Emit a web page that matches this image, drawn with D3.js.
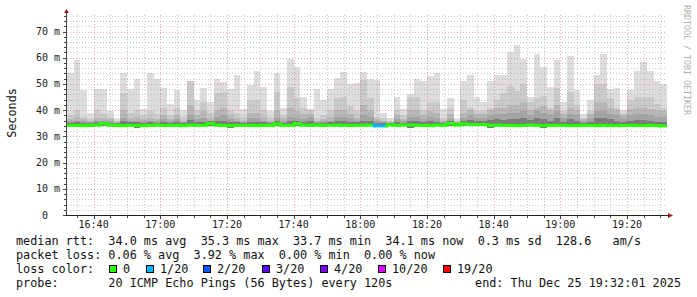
<!DOCTYPE html>
<html>
<head>
<meta charset="utf-8">
<script src="https://cdn.jsdelivr.net/npm/d3@7"></script>
<style>
  body { margin: 0; background: #fff; }
  text { font-family: "DejaVu Sans Mono", monospace; }
</style>
</head>
<body>
<div id="chart"></div>
<script>
// Smoke: sorted ping rtts per 120s step (ms), outermost band first
const rttMax = [54, 59, 47.5, 39, 48, 48, 39.5, 37, 54, 48, 52, 40.5, 54, 52, 48.5, 42.5, 47.5, 40, 51.3, 44, 48.5, 43, 52, 50.6, 48, 53.5, 40.5, 49.5, 55, 49,
                39.5, 54, 41, 59.5, 56.5, 45, 40.5, 48, 44, 48, 52.3, 54.5, 50, 50.5, 54.5, 52, 51.5, 39, 37, 45, 40.5, 46, 52, 51, 53, 54, 40.5, 44.5, 37, 51,
                53.3, 45, 43, 51, 53.5, 53.3, 62, 65, 59.5, 45, 61.5, 56.5, 49, 59, 43, 60.5, 47.5, 38.6, 44, 53.5, 61.5, 48, 48.5, 40, 47.5, 55, 58.5, 55, 51, 50];
const rttP19 = [38, 40, 37.5, 37, 40, 39, 37.5, 36, 46.4, 39, 40, 38, 39.5, 38.5, 41, 38, 41, 37.5, 51, 40, 43, 39, 46.5, 47, 40, 39, 37.5, 43.8, 43.8, 40,
                37.5, 47, 38, 49, 44.5, 41, 40, 37, 38, 40, 44.7, 45, 41.5, 39.5, 51.6, 44.7, 37.5, 37, 36, 40, 38, 45, 45, 40, 43, 43, 37, 41, 36, 44,
                41, 39.8, 39.8, 41, 44, 46.7, 49.1, 47.2, 49.8, 43, 44.7, 45.3, 41, 48.5, 39.8, 47, 42, 37, 39.8, 50, 50, 44.7, 41, 39, 44, 45, 45, 45, 42.5, 41];
const rttP18 = [36.5, 37.5, 36.5, 36, 37, 37, 36.5, 35.5, 40, 37, 37.5, 36.5, 37, 36.5, 38, 36.5, 38, 36, 42, 38, 39.5, 37, 40, 41, 38, 37, 36, 39, 39, 37.5,
                36, 40, 37, 41, 39.5, 38.5, 38.5, 36, 36.5, 37.5, 40, 40, 38.5, 37, 42, 40, 36.5, 36, 35.5, 38, 36.5, 40, 40, 38, 39.5, 39, 36, 38.5, 35.5, 39,
                40, 38.5, 38.5, 40, 41, 41, 42, 42, 43, 40, 41, 41.5, 40, 42, 38.5, 41, 40, 36.5, 38.5, 43, 43, 41, 40, 38, 40.5, 41, 41, 40.5, 40, 39.5];
const rttP17 = [35.8, 36, 35.8, 35.5, 36, 35.8, 35.8, 35.2, 37, 36, 36, 35.8, 36, 35.8, 36.5, 35.8, 36.5, 35.5, 38, 36.5, 37, 36, 37.5, 38, 36.5, 36, 35.5, 37, 37, 36,
                35.5, 37, 36, 37.5, 37, 36.5, 37.5, 35.5, 35.8, 36, 37.5, 37.5, 37, 36, 38, 37.5, 35.8, 35.5, 35.2, 36.5, 35.8, 37.5, 37.5, 36.5, 37.5, 37, 35.5, 36.5, 35.2, 37,
                38, 37, 37, 38, 38.5, 38.5, 39, 39, 39.5, 38, 39.5, 39, 38, 39.5, 37, 38.5, 38, 35.8, 37, 39.5, 39.5, 38.5, 38, 37, 38, 38.5, 38.5, 38, 37.5, 37.5];
const rttP16 = [35.2, 35.4, 35.1, 35.0, 35.3, 35.6, 35.2, 35.0, 35.8, 35.3, 35.4, 35.1, 35.3, 35.2, 35.6, 35.2, 35.5, 35.0, 36.2, 35.5, 35.6, 35.7, 35.8, 36.0, 35.4, 35.3, 35.0, 35.6, 35.6, 35.3,
                35.0, 35.8, 35.2, 36.0, 35.8, 35.5, 36.0, 35.0, 35.2, 35.3, 35.8, 35.9, 35.6, 35.3, 36.0, 35.8, 35.1, 35.0, 35.0, 35.5, 35.2, 36.0, 35.8, 35.5, 35.8, 35.6, 35.0, 35.8, 35.2, 35.8,
                36.2, 35.8, 35.8, 36.2, 36.5, 36.3, 36.8, 36.8, 37.0, 36.2, 37.0, 36.8, 36.0, 37.0, 35.6, 36.5, 36.0, 35.1, 35.6, 37.0, 37.0, 36.5, 36.0, 35.5, 36.0, 36.3, 36.3, 36.0, 35.6, 35.5];
const rttMin = [33.8, 33.8, 33.8, 33.7, 33.8, 33.9, 33.8, 33.6, 33.8, 33.8, 33.3, 33.8, 33.8, 33.8, 33.7, 33.8, 33.8, 33.6, 33.8, 33.8, 33.8, 33.9, 33.8, 33.8, 33.3, 33.8, 33.8, 33.7, 33.8, 33.8,
                33.8, 33.9, 33.8, 33.8, 33.9, 33.8, 33.8, 33.8, 33.7, 33.8, 33.8, 33.8, 33.6, 33.8, 33.8, 33.8, 33.5, 33.5, 33.8, 33.8, 33.8, 33.3, 33.8, 33.8, 33.7, 33.8, 33.8, 33.9, 33.8, 33.9,
                33.9, 33.9, 33.9, 33.3, 33.8, 33.8, 33.8, 33.7, 33.8, 33.8, 33.8, 33.3, 33.8, 33.8, 33.8, 33.7, 33.8, 33.8, 33.8, 33.7, 33.8, 33.7, 33.7, 33.8, 33.8, 33.7, 33.7, 33.8, 33.7, 33.6];
const rttMedian = [34.2, 34.2, 34.1, 34.2, 34.3, 34.9, 34.3, 34.2, 34.1, 34.2, 34.2, 34.1, 34.2, 34.3, 34.2, 34.2, 34.2, 34.1, 34.3, 34.2, 34.2, 34.9, 34.3, 34.2, 34.1, 34.2, 34.2, 34.2, 34.1, 34.2,
                   34.2, 34.8, 34.2, 34.2, 34.9, 34.3, 34.2, 34.3, 34.2, 34.2, 34.3, 34.2, 34.2, 34.2, 34.2, 34.3, 34.0, 34.0, 34.4, 34.2, 34.3, 34.3, 34.2, 34.2, 34.1, 34.3, 34.2, 34.9, 34.3, 34.8,
                   34.5, 34.5, 34.5, 34.2, 34.3, 34.2, 34.2, 34.1, 34.2, 34.3, 34.2, 34.1, 34.2, 34.2, 34.2, 34.1, 34.1, 34.2, 34.2, 34.1, 34.2, 34.1, 34.1, 34.2, 34.2, 34.1, 34.1, 34.2, 34.1, 34.0];
// lost pings out of 20 per step
const lossCount = [0, 0, 0, 0, 0, 0, 0, 0, 0, 0, 0, 0, 0, 0, 0, 0, 0, 0, 0, 0, 0, 0, 0, 0, 0, 0, 0, 0, 0, 0,
                   0, 0, 0, 0, 0, 0, 0, 0, 0, 0, 0, 0, 0, 0, 0, 0, 1, 1, 0, 0, 0, 0, 0, 0, 0, 0, 0, 0, 0, 0,
                   0, 0, 0, 0, 0, 0, 0, 0, 0, 0, 0, 0, 0, 0, 0, 0, 0, 0, 0, 0, 0, 0, 0, 0, 0, 0, 0, 0, 0, 0];

// Loss colour classes
const lossThresholds = [0, 1, 2, 3, 4, 10, 19];
const lossLabels = ["0", "1/20", "2/20", "3/20", "4/20", "10/20", "19/20"];
const lossColors = ["#26ff00", "#00b8ff", "#0059ff", "#5e00ff", "#7e00ff", "#dd00ff", "#ff0000"];

// Y ticks (ms)
const yMajorTicks = [0, 10, 20, 30, 40, 50, 60, 70];

// Legend texts
const legendLines = [
    "median rtt:  34.0 ms avg  35.3 ms max  33.7 ms min  34.1 ms now  0.3 ms sd  128.6   am/s",
    "packet loss: 0.06 % avg  3.92 % max  0.00 % min  0.00 % now",
    "loss color:",
    "probe:       20 ICMP Echo Pings (56 Bytes) every 120s"
];
const endLabel = "end: Thu Dec 25 19:32:01 2025";

// Dimensions
let dimensions = {
    width: 697,
    height: 297,
    margin: {top: 15, left: 67},
    boundedWidth: 600,
    boundedHeight: 200,
};

const startTime = new Date(2025, 11, 25, 16, 32, 1);
const endTime = new Date(2025, 11, 25, 19, 32, 1);
const stepMs = 120 * 1000;
const times = rttMax.map((_, i) => new Date(+startTime + i * stepMs));

// Scales
const xScale = d3.scaleTime()
    .domain([startTime, endTime])
    .range([0, dimensions.boundedWidth]);

const yScale = d3.scaleLinear()
    .domain([0, 76.3])
    .range([dimensions.boundedHeight, 0]);

const lossColor = n => {
    let k = 0;
    lossThresholds.forEach((t, i) => { if (n >= t) k = i; });
    return lossColors[k];
};

// pixel-centred positions for 1px lines
const crisp = v => Math.round(v) + 0.5;
const colX0 = i => Math.round(xScale(times[i]));
const colX1 = i => Math.round(xScale(new Date(+times[i] + stepMs)));

const svg = d3.select("#chart")
    .append("svg")
        .attr("width", dimensions.width)
        .attr("height", dimensions.height)
        .style("display", "block");

const bounds = svg.append("g")
    .attr("transform", `translate(${dimensions.margin.left}, ${dimensions.margin.top})`);

// Smoke bands
const bands = [
    {values: rttMax, color: "#dddddd"},
    {values: rttP19, color: "#cacaca"},
    {values: rttP18, color: "#b7b7b7"},
    {values: rttP17, color: "#a4a4a4"},
    {values: rttP16, color: "#7a7a7a"},
];

bounds.append("g")
    .selectAll("g")
    .data(bands)
    .join("g")
        .attr("fill", d => d.color)
    .selectAll("rect")
    .data(b => b.values.map((v, i) => ({v, i})))
    .join("rect")
        .attr("x", d => colX0(d.i))
        .attr("width", d => colX1(d.i) - colX0(d.i))
        .attr("y", d => Math.round(yScale(d.v)))
        .attr("height", d => Math.round(yScale(rttMin[d.i])) - Math.round(yScale(d.v)));

// Grid (drawn over the smoke, like rrdtool)
const grid = bounds.append("g");
const minorX = d3.timeMinute.every(5).range(startTime, endTime);
const majorX = d3.timeMinute.every(20).range(startTime, endTime);
const minorColor = "rgba(150,150,150,0.5)";
const majorColor = "rgba(215,90,90,0.5)";

grid.selectAll("line.xminor")
    .data(minorX.filter(t => t.getMinutes() % 20 !== 0))
    .join("line")
        .attr("x1", d => crisp(xScale(d)))
        .attr("x2", d => crisp(xScale(d)))
        .attr("y1", 0)
        .attr("y2", dimensions.boundedHeight)
        .attr("stroke", minorColor)
        .attr("stroke-dasharray", "1,2");

grid.selectAll("line.yminor")
    .data(d3.range(2, 77, 2).filter(v => v % 10 !== 0))
    .join("line")
        .attr("x1", 0)
        .attr("x2", dimensions.boundedWidth)
        .attr("y1", d => crisp(yScale(d)))
        .attr("y2", d => crisp(yScale(d)))
        .attr("stroke", minorColor)
        .attr("stroke-dasharray", "1,2");

grid.selectAll("line.xmajor")
    .data(majorX)
    .join("line")
        .attr("x1", d => crisp(xScale(d)))
        .attr("x2", d => crisp(xScale(d)))
        .attr("y1", 0)
        .attr("y2", dimensions.boundedHeight)
        .attr("stroke", majorColor)
        .attr("stroke-dasharray", "1,2");

grid.selectAll("line.ymajor")
    .data(yMajorTicks.filter(v => v > 0))
    .join("line")
        .attr("x1", 0)
        .attr("x2", dimensions.boundedWidth)
        .attr("y1", d => crisp(yScale(d)))
        .attr("y2", d => crisp(yScale(d)))
        .attr("stroke", majorColor)
        .attr("stroke-dasharray", "1,2");

// Median line, coloured by loss
const medianG = bounds.append("g");
medianG.selectAll("line.h")
    .data(rttMedian.map((v, i) => ({v, i})))
    .join("line")
        .attr("x1", d => colX0(d.i))
        .attr("x2", d => colX1(d.i))
        .attr("y1", d => yScale(d.v))
        .attr("y2", d => yScale(d.v))
        .attr("stroke", d => lossColor(lossCount[d.i]))
        .attr("stroke-width", 3);

medianG.selectAll("line.v")
    .data(rttMedian.map((v, i) => ({v, i})).filter(d => d.i > 0 && rttMedian[d.i - 1] !== d.v))
    .join("line")
        .attr("x1", d => colX0(d.i))
        .attr("x2", d => colX0(d.i))
        .attr("y1", d => yScale(rttMedian[d.i - 1]) + (rttMedian[d.i - 1] < d.v ? 1.5 : -1.5))
        .attr("y2", d => yScale(d.v) + (rttMedian[d.i - 1] < d.v ? -1.5 : 1.5))
        .attr("stroke", d => lossColor(lossCount[d.i]))
        .attr("stroke-width", 3);

// Axes lines, ticks and arrows
const axes = bounds.append("g");
axes.append("line")
    .attr("x1", -0.5).attr("x2", -0.5)
    .attr("y1", dimensions.boundedHeight + 0.5).attr("y2", -3)
    .attr("stroke", "#444");
axes.append("line")
    .attr("x1", -3).attr("x2", dimensions.boundedWidth + 2)
    .attr("y1", dimensions.boundedHeight + 0.5).attr("y2", dimensions.boundedHeight + 0.5)
    .attr("stroke", "#222");

axes.selectAll("line.xtick")
    .data(minorX)
    .join("line")
        .attr("x1", d => crisp(xScale(d)))
        .attr("x2", d => crisp(xScale(d)))
        .attr("y1", dimensions.boundedHeight + 1)
        .attr("y2", d => dimensions.boundedHeight + (d.getMinutes() % 20 === 0 ? 4 : 3))
        .attr("stroke", "#444");

axes.selectAll("line.ytick")
    .data(d3.range(0, 77, 2))
    .join("line")
        .attr("x1", d => d % 10 === 0 ? -4 : -3)
        .attr("x2", -1)
        .attr("y1", d => crisp(yScale(d)))
        .attr("y2", d => crisp(yScale(d)))
        .attr("stroke", "#444");

axes.append("path")
    .attr("d", "M-3,-2 L2,-2 L-0.5,-6 Z")
    .attr("fill", "#9b1c1c");
axes.append("path")
    .attr("d", `M${dimensions.boundedWidth + 1},${dimensions.boundedHeight - 2} L${dimensions.boundedWidth + 1},${dimensions.boundedHeight + 3} L${dimensions.boundedWidth + 6},${dimensions.boundedHeight + 0.5} Z`)
    .attr("fill", "#9b1c1c");

// Tick labels
axes.selectAll("text.ylabel")
    .data(yMajorTicks)
    .join("text")
        .attr("x", -7)
        .attr("y", d => yScale(d))
        .attr("dy", "0.35em")
        .attr("text-anchor", "end")
        .attr("xml:space", "preserve")
        .style("font-size", "10px")
        .attr("fill", "#222")
        .text(d => d === 0 ? "0  " : d + " m");

axes.selectAll("text.xlabel")
    .data(majorX)
    .join("text")
        .attr("x", d => xScale(d))
        .attr("y", dimensions.boundedHeight + 13)
        .attr("text-anchor", "middle")
        .style("font-size", "10px")
        .attr("fill", "#222")
        .text(d3.timeFormat("%H:%M"));

// Vertical labels
svg.append("text")
    .attr("transform", `translate(16, ${dimensions.margin.top + 98}) rotate(-90)`)
    .attr("text-anchor", "middle")
    .style("font-size", "11.8px")
    .attr("fill", "#111")
    .text("Seconds");

svg.append("text")
    .attr("transform", "translate(684, 5) rotate(90)")
    .style("font-size", "8.3px")
    .attr("fill", "#b0b0b0")
    .text("RRDTOOL / TOBI OETIKER");

// Legend
const legend = svg.append("g")
    .style("font-size", "11.8px")
    .attr("fill", "#111");

legend.selectAll("text.line")
    .data(legendLines)
    .join("text")
        .attr("x", 16)
        .attr("y", (d, i) => 245 + i * 14)
        .attr("xml:space", "preserve")
        .text(d => d);

legend.append("text")
    .attr("x", 681)
    .attr("y", 245 + 3 * 14)
    .attr("text-anchor", "end")
    .text(endLabel);

const lossLegendX = [109, 146, 203, 262, 320, 378, 443];
const items = legend.selectAll("g.item")
    .data(lossLabels)
    .join("g")
        .attr("transform", (d, i) => `translate(${lossLegendX[i]}, ${245 + 2 * 14})`);

items.append("rect")
    .attr("x", 0.5)
    .attr("y", -7.5)
    .attr("width", 7)
    .attr("height", 7)
    .attr("fill", (d, i) => lossColors[i])
    .attr("stroke", "#000");

items.append("text")
    .attr("x", 14)
    .text(d => d);
</script>
</body>
</html>
